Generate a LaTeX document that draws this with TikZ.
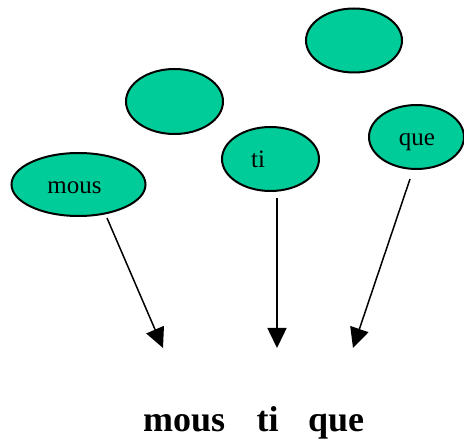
\documentclass[tikz,border=0pt]{standalone}
\usepackage{fontspec}
\setmainfont{Liberation Serif}
\usetikzlibrary{shapes.geometric,arrows.meta}
\definecolor{blobgreen}{RGB}{0,204,153}
\begin{document}
\begin{tikzpicture}[x=1pt,y=-1pt,
  blob/.style={ellipse,draw=black,fill=blobgreen,line width=2pt,inner sep=0pt},
  lbl/.style={anchor=base,inner sep=0pt,font=\fontsize{25}{30}\selectfont},
  word/.style={anchor=base west,inner sep=0pt,font=\fontsize{36}{40}\selectfont\bfseries},
  arr/.style={line width=1.5pt,-{Triangle[length=20pt,width=19pt]}}]
\useasboundingbox (0,0) rectangle (464,441);
% ellipses
\node[blob,minimum width=96pt,minimum height=64pt] (top) at (354,40.5) {};
\node[blob,minimum width=97pt,minimum height=65pt] (mid) at (174.5,101.5) {};
\node[blob,minimum width=97pt,minimum height=64pt] (ti) at (270.5,159) {};
\node[blob,minimum width=95pt,minimum height=64pt] (que) at (416.5,137) {};
\node[blob,minimum width=134pt,minimum height=63pt] (mous) at (78.5,184.5) {};
% labels
\node[lbl] (mousT) at (74.5,194) {mous};
\node[lbl] (tiT) at (258,168) {ti};
\node[lbl] (queT) at (417,145.5) {que};
% arrows
\coordinate (s1) at (107,218);
\coordinate (e1) at (163,348);
\coordinate (s2) at (277,198);
\coordinate (e2) at (277,348);
\coordinate (s3) at (410,179);
\coordinate (e3) at (353,348);
\draw[arr] (s1) -- (e1);
\draw[arr] (s2) -- (e2);
\draw[arr] (s3) -- (e3);
% bottom words
\node[word] (w1) at (143,431.5) {mous};
\node[word] (w2) at (256.5,431.5) {ti};
\node[word] (w3) at (308,431.5) {que};
\end{tikzpicture}
\end{document}
